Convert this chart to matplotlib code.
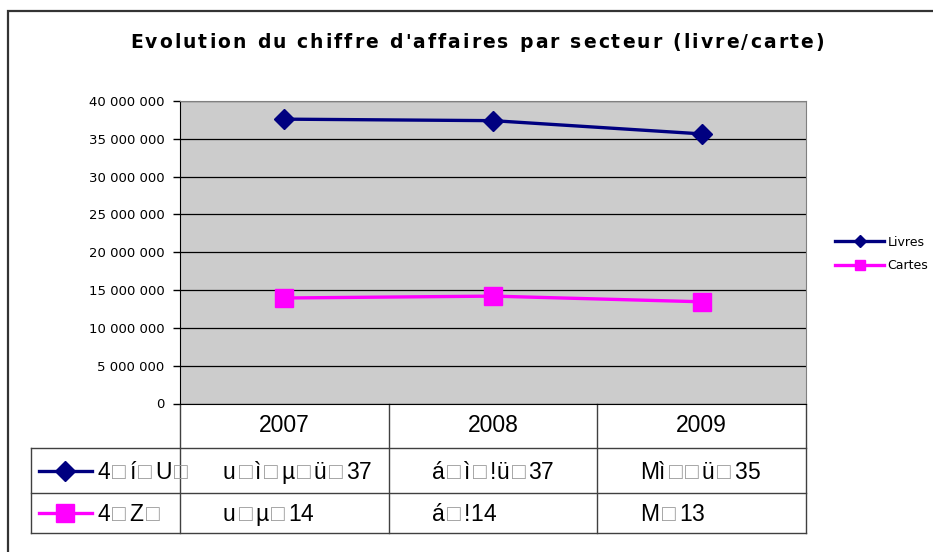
import matplotlib.pyplot as plt
from matplotlib.lines import Line2D
from matplotlib.patches import Rectangle
from matplotlib.transforms import blended_transform_factory

# Data
years = ['2007', '2008', '2009']
livres = [37.6e6, 37.4e6, 35.65e6]
cartes = [13.95e6, 14.2e6, 13.45e6]
series_names = ['Livres', 'Cartes']
title = "Evolution du chiffre d'affaires par secteur (livre/carte)"
# text of the data table, as shown in the source picture
row_labels = ['4\u25a1í\u25a1U\u25a1', '4\u25a1Z\u25a1']
row_livres = ['u\u25a1ì\u25a1µ\u25a1ü\u25a137', 'á\u25a1ì\u25a1!ü\u25a137', 'Mì\u25a1\u25a1ü\u25a135']
row_cartes = ['u\u25a1µ\u25a114', 'á\u25a1!14', 'M\u25a113']
yticks = [0, 5e6, 10e6, 15e6, 20e6, 25e6, 30e6, 35e6, 40e6]

W, H = 933, 552
navy = '#000080'
magenta = '#ff00ff'
grey_line = '#404040'
tfam = ['Liberation Sans', 'DejaVu Sans']
BOX = '\u25a1'

fig = plt.figure(figsize=(W / 100, H / 100), dpi=100)
fig.patch.set_facecolor('white')
renderer = fig.canvas.get_renderer()

# outer chart frame (cropped on right and bottom)
fig.patches.append(Rectangle((8 / W, (H - 11) / H - 2), 2, 2, transform=fig.transFigure,
                             fill=False, edgecolor='#333333', linewidth=1.6))

# plot area in pixels
L, R, T, B = 180, 806, 101, 403.5
ax = fig.add_axes([L / W, (H - B) / H, (R - L) / W, (B - T) / H])
ax.set_facecolor('#cccccc')

x = list(range(len(years)))
ax.plot(x, livres, color=navy, lw=2.4, marker='D', ms=10.5, label=series_names[0], zorder=4)
ax.plot(x, cartes, color=magenta, lw=2.4, marker='s', ms=13.5, label=series_names[1], zorder=4)

ax.set_xlim(-0.5, 2.5)
ax.set_ylim(0, 40e6)
ax.set_yticks(yticks)
ax.set_yticklabels([f'{int(v):,}'.replace(',', ' ') for v in yticks],
                   fontsize=9.5, family='DejaVu Sans')
ax.set_xticks([])
ax.tick_params(axis='y', length=5, width=1, pad=6, direction='out')
ax.yaxis.grid(True, color='black', linewidth=0.9)
ax.set_axisbelow(True)
for s in ['top', 'right']:
    ax.spines[s].set_color('#808080')
for s in ['left', 'bottom']:
    ax.spines[s].set_color('black')

# legend
leg = ax.legend(loc='center left', bbox_to_anchor=(824 / W, 1 - 254 / H),
                bbox_transform=fig.transFigure, frameon=False,
                markerscale=0.55, handlelength=3.9, handletextpad=0.3,
                labelspacing=0.85, prop={'family': 'DejaVu Sans', 'size': 9})


def spaced_text(x0, y0, s, size=16.5, extra=2.8, box_only=True, center=False, **kw):
    # draw text char by char from pixel position (left, baseline); boxes in grey
    texts, xx = [], 0.0
    for k, ch in enumerate(s):
        c = '#9a9a9a' if ch == BOX else 'black'
        t = fig.text(0, 1 - y0 / H, ch, ha='left', va='baseline', color=c,
                     fontsize=size, family=kw.get('family', tfam),
                     fontweight=kw.get('weight', 'normal'))
        texts.append((t, xx))
        if ch == ' ':
            w = 0.35 * size * 100 / 72
        else:
            w = t.get_window_extent(renderer).width
        nxt = s[k + 1] if k + 1 < len(s) else ''
        gap = extra if (not box_only or ch == BOX or nxt == BOX) else 0
        xx += w + gap
    start = x0 - xx / 2 if center else x0
    for t, off in texts:
        t.set_x((start + off) / W)


spaced_text(478, 48, title, size=13.5, extra=2.1, box_only=False, center=True,
            family='DejaVu Sans', weight='bold')


# data table under the plot
def ya(ypx):
    return (B - ypx) / (B - T)


def xa(xpx):
    return (xpx - L) / (R - L)


tr = blended_transform_factory(ax.transData, ax.transAxes)
ta = ax.transAxes
lk = dict(color=grey_line, lw=1, clip_on=False)
y_head, y_r1, y_r2 = 448, 493, 533
for yy in [y_head, y_r1, y_r2]:
    ax.plot([xa(31), 1], [ya(yy), ya(yy)], transform=ta, **lk)
ax.plot([xa(31), xa(31)], [ya(y_head), ya(y_r2)], transform=ta, **lk)
for b in [-0.5, 0.5, 1.5, 2.5]:
    ax.plot([b, b], [0, ya(y_r2)], transform=tr, **lk)

for i, yr in enumerate(years):
    ax.text(i, ya((B + y_head) / 2), yr, transform=tr, ha='center', va='center',
            fontsize=16.5, family=tfam)

col_edges = [L + (R - L) * k / 3 for k in range(3)]
rows = [(row_labels[0], row_livres, navy, 'D', 10.5, (y_head + y_r1) / 2, 479),
        (row_labels[1], row_cartes, magenta, 's', 13.5, (y_r1 + y_r2) / 2, 521)]
for lab, vals, col, mk, ms, yc, base in rows:
    ax.add_line(Line2D([xa(39), xa(92)], [ya(yc), ya(yc)], transform=ta, color=col,
                       lw=2.4, clip_on=False))
    ax.add_line(Line2D([xa(65)], [ya(yc)], transform=ta, color=col, marker=mk, ms=ms,
                       lw=0, clip_on=False))
    spaced_text(97, base, lab)
    for i, v in enumerate(vals):
        spaced_text(col_edges[i] + 43, base, v)

fig.savefig('out.png', dpi=100)
